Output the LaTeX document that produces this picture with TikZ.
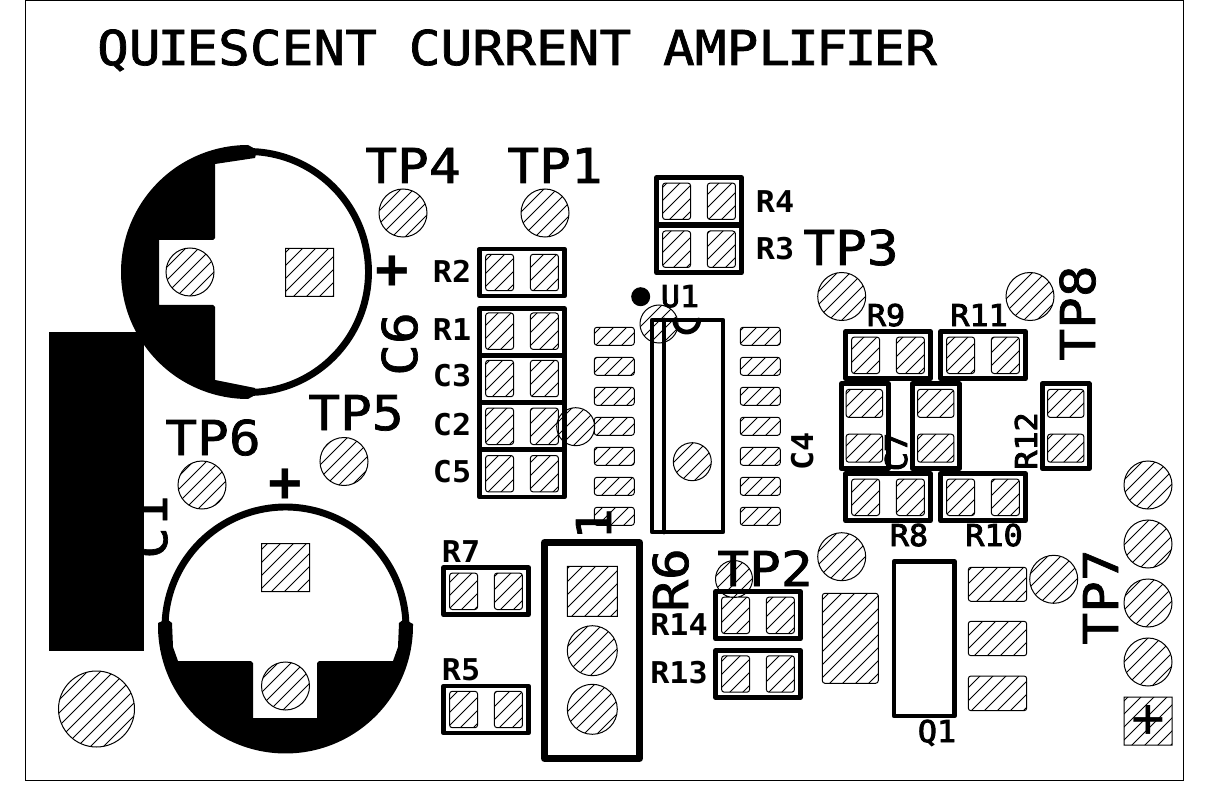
\documentclass[tikz,border=0pt]{standalone}
\usepackage{fontspec}
\newfontfamily\pcbmono{DejaVu Sans Mono}
\newfontfamily\pcbbig[FakeStretch=1.1,FakeBold=1.5]{DejaVu Sans Mono}
\newfontfamily\pcbsmall[FakeStretch=1.06]{DejaVu Sans Mono}
\newfontfamily\pcbmid[FakeStretch=1.06,FakeBold=3]{DejaVu Sans Mono}
\newcommand{\ik}{\kern-2.3pt}
\newcommand{\hp}[2]{[rounded corners=2pt] ({#1-36.4},{#2-18.2}) rectangle ({#1-8.4},{#2+18.2}) ({#1+8.4},{#2-18.2}) rectangle ({#1+36.4},{#2+18.2}) [sharp corners]}
\newcommand{\vp}[2]{[rounded corners=2pt] ({#1-18.2},{#2-36.4}) rectangle ({#1+18.2},{#2-8.4}) ({#1-18.2},{#2+8.4}) rectangle ({#1+18.2},{#2+36.4}) [sharp corners]}
\newcommand{\sop}[1]{[rounded corners=2pt] (594.3,{#1-9}) rectangle (634.3,{#1+9}) (740.3,{#1-9}) rectangle (780.3,{#1+9}) [sharp corners]}
\newcommand{\sq}[3]{({#1-#3},{#2-#3}) rectangle ({#1+#3},{#2+#3})}
\newcommand{\allpads}{
  (403,213) circle (24) (545,213) circle (24) (202,485) circle (24) (344,461.5) circle (24)
  (841.7,296.5) circle (24) (1030,296.5) circle (24) (841.7,556.7) circle (24) (1053.7,579.3) circle (24)
  (1148,485) circle (24) (1148,544) circle (24) (1148,603) circle (24) (1148,662) circle (24)
  \sq{1148}{721}{24}
  (96.5,709) circle (38)
  (190,272) circle (24) \sq{309.5}{272.5}{24}
  (285.5,686) circle (24) \sq{285.5}{567.5}{24}
  (692.3,461.7) circle (19)
  (734,579) circle (18.5)
  \sq{592.3}{591.3}{25} (592.3,650.7) circle (25) (592.3,709.3) circle (25)
  \hp{522}{272.5} \hp{522}{331.2} \hp{522}{378.5} \hp{522}{426.3} \hp{522}{473.7}
  \hp{699}{201.3} \hp{699}{249.2}
  \hp{888}{355.3} \hp{983}{355.3} \hp{888}{497.3} \hp{983}{497.3}
  \vp{864.3}{425.8} \vp{935.7}{425.8} \vp{1065.7}{425.8}
  \hp{486}{591.3} \hp{486}{709.5} \hp{758}{615.3} \hp{758}{674}
  \sop{336.3} \sop{366.3} \sop{396.3} \sop{426.3} \sop{456.3} \sop{486.3} \sop{516.3}
  [rounded corners=2pt] (822.3,593.3) rectangle (878.3,683.3)
  (968.3,567.3) rectangle (1026.7,601.3) (968.3,621.3) rectangle (1026.7,655.7) (968.3,676) rectangle (1026.7,710.7) [sharp corners]
}
\newcommand{\extrapads}{(659,324) circle (19) (575.7,426.7) circle (19)}
\newcommand{\hatchlines}{\foreach \k in {0,1,...,155} {\draw[hatchline] ({\k*13+5},0) -- ({\k*13+5-806},806);}}
\tikzset{
  frameline/.style={line width=0.75pt,draw=black},
  padline/.style={line width=0.75pt,draw=black},
  hatchline/.style={line width=0.7pt,draw=black},
  silk/.style={line width=3.6pt,draw=black,line join=round,line cap=round},
  silkthick/.style={line width=5.2pt,draw=black,line join=round},
  ring/.style={line width=5.2pt,draw=black},
  solid black/.style={fill=black,draw=none},
  titletxt/.style={font=\pcbbig\fontsize{36}{36}\selectfont,inner sep=0pt,anchor=base},
  tptxt/.style={font=\pcbbig\fontsize{36}{36}\selectfont,inner sep=0pt,anchor=base},
  smalltxt/.style={font=\pcbsmall\bfseries\fontsize{22.5}{22.5}\selectfont,inner sep=0pt,anchor=base},
  midtxt/.style={font=\pcbmid\fontsize{22.5}{22.5}\selectfont,inner sep=0pt,anchor=base},
  plustxt/.style={font=\pcbmono\bfseries\fontsize{42}{42}\selectfont,inner sep=0pt,anchor=center},
}
\begin{document}
\begin{tikzpicture}[x=0.75pt,y=-0.75pt]
\useasboundingbox (0,0) rectangle (1208,806);
\draw[frameline] (25.5,0.5) rectangle (1183,780);
% hatching
\begin{scope}
  \clip \allpads;
  \hatchlines
\end{scope}
\begin{scope}
  \clip \extrapads;
  \hatchlines
\end{scope}
\draw[padline] \allpads;
\draw[padline] \extrapads;
% solid copper
\fill[solid black] (49,332) rectangle (144,650.7);
% C6 outline
\draw[ring] plot[domain=-90:90,samples=80] ({248+120.5*cos(\x)},{272-120.5*sin(\x)});
\fill[solid black] (257,150) -- plot[domain=90:270,samples=100] ({248+127*cos(\x)},{272-127*sin(\x)})
  -- (257,394) -- (255,388) -- (215,380) -- (215,307) -- (213,305) -- (159,305) -- (159,240) -- (213,240) -- (215,238) -- (215,164) -- (255,158) -- cycle;
% C1 outline
\draw[ring] plot[domain=0:180,samples=80] ({285.5+120.5*cos(\x)},{627.5-120.5*sin(\x)});
\fill[solid black] (413,624) -- plot[domain=0:-180,samples=100] ({285.5+127.5*cos(\x)},{626-127.5*sin(\x)})
  -- (158,623) -- (167,619) -- (172,623) -- (173,647) -- (178,661) -- (251,661) -- (253,663) -- (253,718) -- (317,718) -- (317,663) -- (319,661) -- (393,661) -- (398,647) -- (399,623) -- (404,619) -- cycle;
% resistor boxes
\foreach \cx/\cy in {522/272.5,522/332,522/378.5,522/426,522/473.5,699/201.3,699/249.2,888/355.3,983/355.3,888/497.3,983/497.3,486/591.3,486/709.5,758/615.3,758/674}
  {\draw[silk] ({\cx-42.5},{\cy-23.5}) rectangle ({\cx+42.5},{\cy+23.5});}
\foreach \cx/\cy in {864.8/426.2,935.7/426.2,1065.7/426.2}
  {\draw[silk] ({\cx-23.5},{\cy-42.5}) rectangle ({\cx+23.5},{\cy+42.5});}
% connector box
\draw[silkthick] (544.5,542.5) rectangle (639.5,758.5);
% U1 body
\draw[silk] (652,320) rectangle (723,532);
\draw[silk] (664,320) -- (664,532);
\draw[silk] plot[domain=180:360,samples=30] ({686.7+12*cos(\x)},{320-12*sin(\x)});
\fill[solid black] (640.7,296.7) circle (9.5);
% Q1 body
\draw[silk] (894,561.5) rectangle (954.5,716);
% plus marks
\node[plustxt] (plusa) at (392,272) {+};
\node[plustxt] (plusb) at (285,485) {+};
\node[plustxt,font=\pcbmono\fontsize{42}{42}\selectfont] (plusc) at (1148,721) {+};
% text
\node[titletxt] (title) at (517,65) {QU\ik I\ik ESCENT CURRENT AMPL\ik I\ik F\ik I\ik ER};
\node[tptxt] (tpfour) at (413,183) {TP4};
\node[tptxt] (tpone) at (555,183) {TP1};
\node[tptxt] (tpthree) at (851,265) {TP3};
\node[tptxt] (tpfive) at (356,430) {TP5};
\node[tptxt] (tpsix) at (213,455) {TP6};
\node[tptxt] (tptwo) at (765,586) {TP2};
\node[tptxt,rotate=90] (tpeight) at (1095,313) {TP8};
\node[tptxt,rotate=90] (tpseven) at (1118,597) {TP7};
\node[tptxt,rotate=90] (csix) at (417,344) {C6};
\node[tptxt,rotate=90] (cone) at (167,527) {C1};
\node[tptxt,rotate=90] (pinone) at (611,524) {1};
\node[tptxt,rotate=90] (rsix) at (688,580) {R6};
\node[smalltxt] (rfour) at (775,213) {R4};
\node[smalltxt] (rthree) at (775,260) {R3};
\node[smalltxt] (rtwo) at (452,282) {R2};
\node[smalltxt] (rone) at (452,340) {R1};
\node[smalltxt] (cthree) at (452,387) {C3};
\node[smalltxt] (ctwo) at (452,435) {C2};
\node[smalltxt] (cfive) at (452,482) {C5};
\node[midtxt] (uone) at (680,307) {U1};
\node[smalltxt,rotate=90] (cfour) at (813,451) {C4};
\node[midtxt] (rnine) at (886,326) {R9};
\node[midtxt] (releven) at (979,326) {R11};
\node[midtxt] (reight) at (909,546) {R8};
\node[midtxt] (rten) at (994,546) {R10};
\node[midtxt,rotate=90] (cseven) at (907,452) {C7};
\node[midtxt,rotate=90] (rtwelve) at (1037,441) {R12};
\node[smalltxt] (rseven) at (461,562) {R7};
\node[smalltxt] (rfive) at (461,680) {R5};
\node[smalltxt] (rfourteen) at (679,635) {R14};
\node[smalltxt] (rthirteen) at (679,683) {R13};
\node[midtxt] (qone) at (937,742) {Q1};
\end{tikzpicture}
\end{document}
